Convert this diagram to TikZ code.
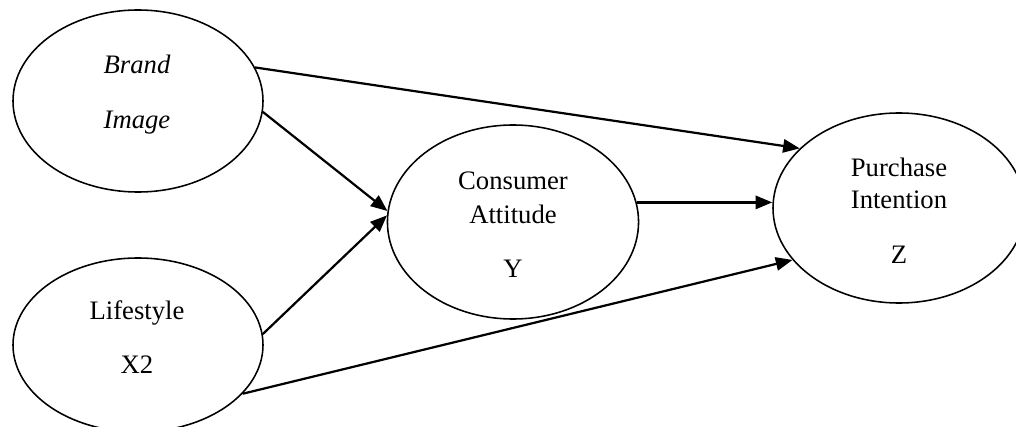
\documentclass[tikz,border=0pt]{standalone}
\usepackage{fontspec}
\setmainfont{Liberation Serif}
\usetikzlibrary{arrows.meta,shapes.geometric}

\tikzset{
  var/.style={draw, ellipse, line width=0.7pt, inner sep=0pt},
  arr/.style={-{Triangle[length=7.5pt,width=6pt]}, line width=1pt},
  txt/.style={anchor=base, inner sep=0pt, font=\fontsize{12}{14}\selectfont}
}

\begin{document}
\begin{tikzpicture}[x=0.45pt, y=-0.45pt]
      \useasboundingbox (0,0) rectangle (1016,427);
      \clip (0,0) rectangle (1016,427);
      % the four variables
      \node[var, minimum width=112.5pt, minimum height=81.9pt] (brand) at (138,101) {};
      \node[var, minimum width=112.5pt, minimum height=78.3pt] (life) at (138,345) {};
      \node[var, minimum width=113pt, minimum height=87.3pt] (cons) at (513,222) {};
      \node[var, minimum width=113.4pt, minimum height=85.5pt] (purch) at (899,208) {};
      % texts
      \node[txt] (brand1) at (137,74) {\itshape Brand};
      \node[txt] (brand2) at (137,129) {\itshape Image};
      \node[txt] (life1) at (137,319) {Lifestyle};
      \node[txt] (life2) at (137,373) {X2};
      \node[txt] (cons1) at (513,189) {Consumer};
      \node[txt] (cons2) at (513,223) {Attitude};
      \node[txt] (cons3) at (513,277) {Y};
      \node[txt] (purch1) at (899,177) {Purchase};
      \node[txt] (purch2) at (899,209) {Intention};
      \node[txt] (purch3) at (899,263) {Z};
      % paths
      \draw[arr] (brand.16) -- (purch.149);
      \draw[arr] (brand.355) -- (cons.175);
      \draw[arr] (life.5) -- (cons.177);
      \draw[arr] (cons.9) -- (cons.9 -| purch.west);
      \draw[arr] (life.335) -- (purch.206);
    \end{tikzpicture}
\end{document}
